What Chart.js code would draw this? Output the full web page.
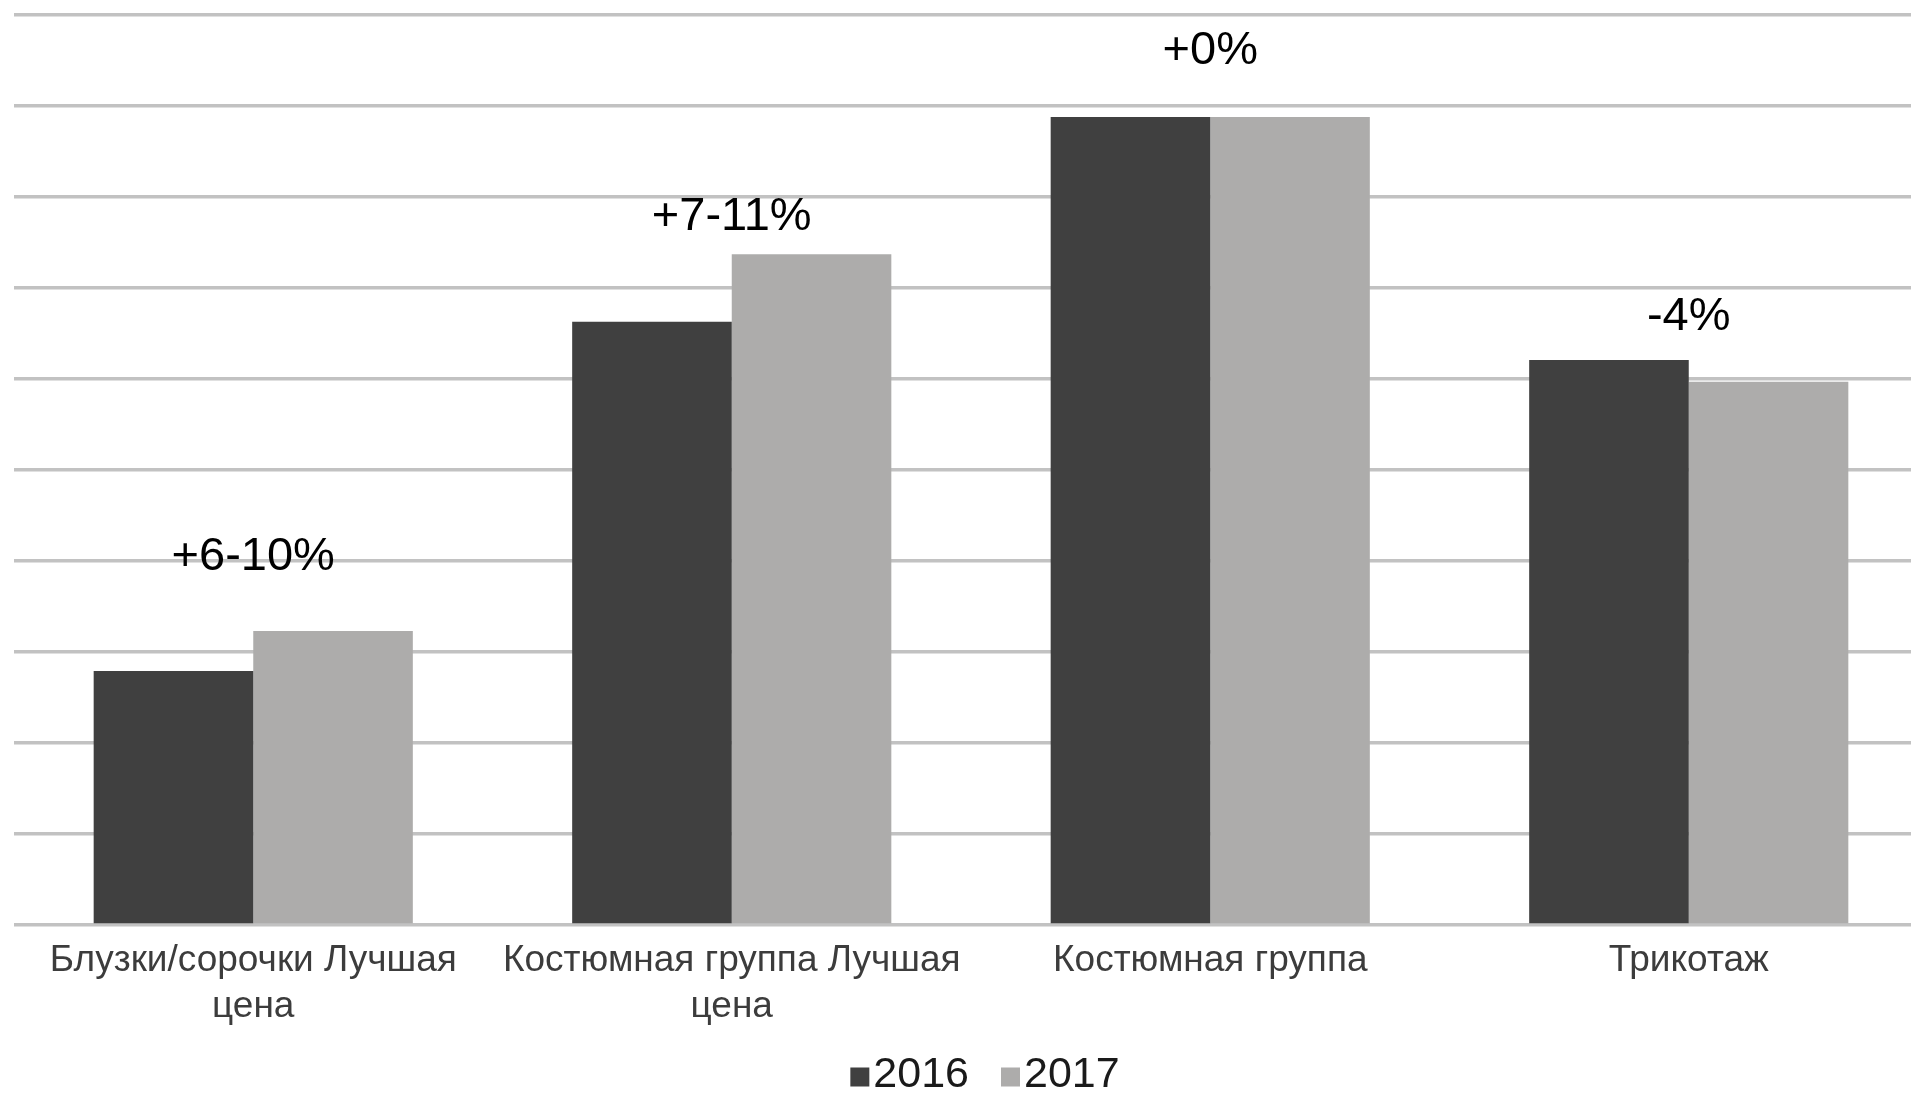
<!DOCTYPE html>
<html>
<head>
<meta charset="utf-8">
<script src="https://cdn.jsdelivr.net/npm/chart.js@4/dist/chart.umd.min.js"></script>
<style>
  html, body { margin: 0; padding: 0; background: #fff; overflow: hidden; }
  #chart { display: block; }
</style>
</head>
<body>
<canvas id="chart" width="1928" height="1095"></canvas>
<script>
// Data
const categories = [
    ['Блузки/сорочки Лучшая', 'цена'],
    ['Костюмная группа Лучшая', 'цена'],
    'Костюмная группа',
    'Трикотаж'
];
const years = ['2016', '2017'];
const values2016 = [2.79, 6.63, 8.88, 6.21];
const values2017 = [3.23, 7.37, 8.88, 5.97];
const changeLabels = ['+6-10%', '+7-11%', '+0%', '-4%'];
const changeLevels = [4.04, 7.78, 9.6, 6.68];
const yTicks = [0, 1, 2, 3, 4, 5, 6, 7, 8, 9, 10];

const colors = ['#404040', '#adacab'];
const FONT = '"Liberation Sans", Arial, sans-serif';

// Change labels above each group
const changePlugin = {
    id: 'changeLabels',
    afterDatasetsDraw(chart) {
        const { ctx, scales } = chart;
        ctx.save();
        ctx.font = `47px ${FONT}`;
        ctx.fillStyle = '#000';
        ctx.textAlign = 'center';
        ctx.textBaseline = 'middle';
        changeLabels.forEach((txt, i) => {
            ctx.fillText(txt, scales.x.getPixelForValue(i), scales.y.getPixelForValue(changeLevels[i]));
        });
        ctx.restore();
    }
};

// Legend with small squares close to the text
const legendPlugin = {
    id: 'smallLegend',
    afterDraw(chart) {
        const { ctx, chartArea } = chart;
        const box = 19, gap = 4, itemGap = 32, y = 1075;
        ctx.save();
        ctx.font = `43px ${FONT}`;
        ctx.textBaseline = 'middle';
        const items = chart.data.datasets.map(ds => ({ text: ds.label, color: ds.backgroundColor, w: ctx.measureText(ds.label).width }));
        const total = items.reduce((a, it) => a + box + gap + it.w, 0) + itemGap * (items.length - 1);
        let x = (chartArea.left + chartArea.right) / 2 - total / 2 + 14;
        items.forEach(it => {
            ctx.fillStyle = it.color;
            ctx.fillRect(x, y - box / 2 + 2, box, box);
            x += box + gap;
            ctx.fillStyle = '#1a1a1a';
            ctx.fillText(it.text, x, y);
            x += it.w + itemGap;
        });
        ctx.restore();
    }
};

new Chart(document.getElementById('chart'), {
    type: 'bar',
    data: {
        labels: categories,
        datasets: [
            { label: years[0], data: values2016, backgroundColor: colors[0] },
            { label: years[1], data: values2017, backgroundColor: colors[1] }
        ]
    },
    options: {
        responsive: false,
        animation: false,
        devicePixelRatio: 1,
        categoryPercentage: 0.667,
        barPercentage: 1,
        layout: { padding: { left: 14, top: 15, right: 0, bottom: 0 } },
        plugins: {
            legend: { display: false },
            tooltip: { enabled: false }
        },
        scales: {
            x: {
                grid: { display: false, drawTicks: false },
                border: { display: false },
                ticks: {
                    color: '#3c3c3c',
                    font: { family: FONT, size: 37, lineHeight: 1.24 },
                    padding: 13,
                    maxRotation: 0,
                    autoSkip: false
                },
                afterFit(scale) { scale.height = 170; }
            },
            y: {
                min: yTicks[0],
                max: yTicks[yTicks.length - 1],
                afterBuildTicks(scale) { scale.ticks = yTicks.map(v => ({ value: v })); },
                ticks: { display: false },
                grid: { color: '#c2c2c2', lineWidth: 3.5, drawTicks: false },
                border: { display: false },
                afterFit(scale) { scale.width = 0; }
            }
        }
    },
    plugins: [changePlugin, legendPlugin]
});
</script>
</body>
</html>
